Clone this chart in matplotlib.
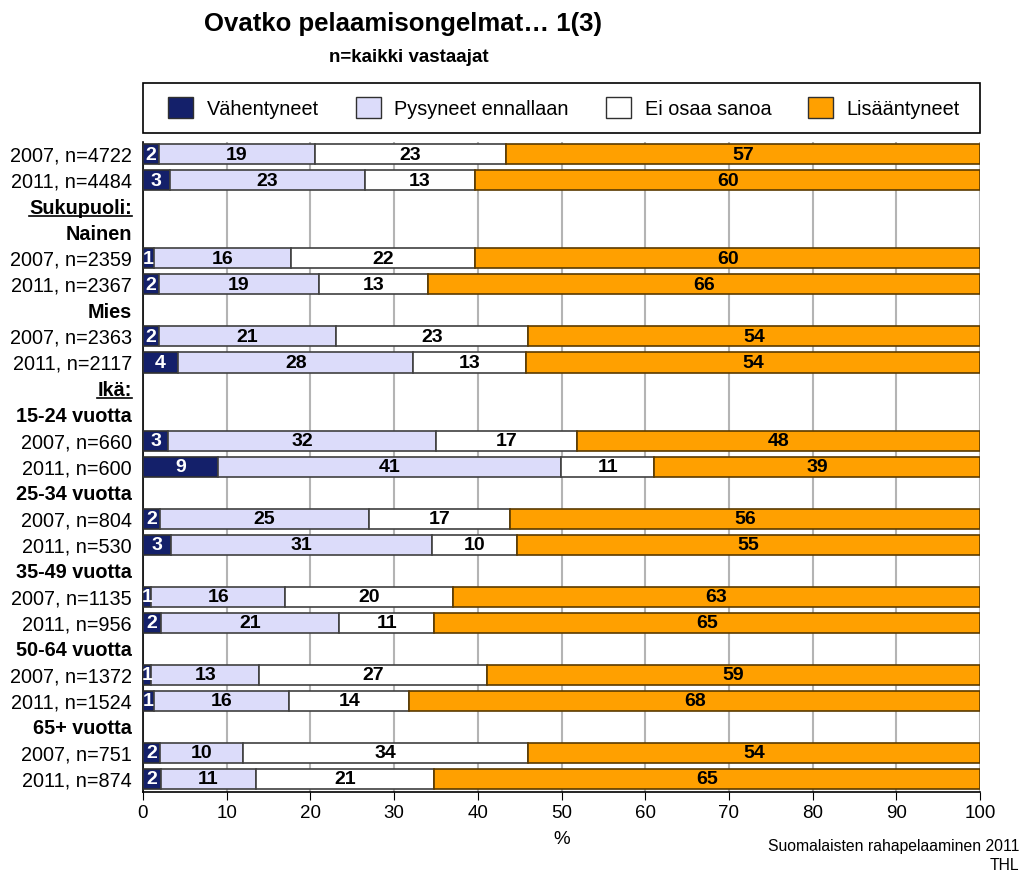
import numpy as np
import matplotlib.pyplot as plt
from matplotlib.patches import Patch, Rectangle
from matplotlib.lines import Line2D

plt.rcParams['font.family'] = ['Liberation Sans', 'DejaVu Sans']

# row labels, top to bottom (headers have no bars)
row_labels = ["2007, n=4722", "2011, n=4484", "Sukupuoli:", "Nainen",
              "2007, n=2359", "2011, n=2367", "Mies",
              "2007, n=2363", "2011, n=2117", "Ikä:", "15-24 vuotta",
              "2007, n=660", "2011, n=600", "25-34 vuotta",
              "2007, n=804", "2011, n=530", "35-49 vuotta",
              "2007, n=1135", "2011, n=956", "50-64 vuotta",
              "2007, n=1372", "2011, n=1524", "65+ vuotta",
              "2007, n=751", "2011, n=874"]
underlined = ["Sukupuoli:", "Ikä:"]
bold_headers = ["Nainen", "Mies", "15-24 vuotta", "25-34 vuotta",
                "35-49 vuotta", "50-64 vuotta", "65+ vuotta"]

series = ["Vähentyneet", "Pysyneet ennallaan", "Ei osaa sanoa", "Lisääntyneet"]
vahentyneet = [1.9, 3.2, 1.3, 1.9, 1.9, 4.2, 3.0, 9.0, 2.0, 3.3, 1.0, 2.2, 1.0, 1.3, 2.0, 2.1]
pysyneet = [18.6, 23.3, 16.4, 19.1, 21.1, 28.1, 32.0, 40.9, 25.0, 31.2, 16.0, 21.2, 12.9, 16.2, 9.9, 11.4]
ei_osaa = [22.9, 13.2, 22.0, 13.0, 23.0, 13.4, 16.9, 11.2, 16.9, 10.2, 20.0, 11.4, 27.2, 14.3, 34.1, 21.3]
lisaantyneet = [56.6, 60.3, 60.3, 66.0, 54.0, 54.3, 48.1, 38.9, 56.1, 55.3, 63.0, 65.2, 58.9, 68.2, 54.0, 65.2]

colors = ["#14206a", "#dcdcfa", "#ffffff", "#ffa000"]
edges = ["#303030", "#404040", "#404040", "#5a3a00"]
txt_colors = ["white", "black", "black", "black"]

fig = plt.figure(figsize=(10.21, 8.74), dpi=100)
ax = fig.add_axes([0.140, 1 - 792 / 874, 0.820, (792 - 142) / 874])

ypos = np.arange(len(row_labels))
bar_rows = [i for i, l in enumerate(row_labels)
            if l not in underlined and l not in bold_headers]

data = [vahentyneet, pysyneet, ei_osaa, lisaantyneet]
left = np.zeros(len(bar_rows))
for k, vals in enumerate(data):
    vals = np.array(vals)
    ax.barh(bar_rows, vals, left=left, height=0.77, color=colors[k],
            edgecolor=edges[k], linewidth=1.2, zorder=3)
    for y, l, v in zip(bar_rows, left, vals):
        ax.text(l + v / 2, y + 0.03, f"{v:.0f}", ha="center", va="center",
                color=txt_colors[k], fontsize=14, fontweight="bold", zorder=4)
    left += vals

ax.set_xlim(0, 100)
ax.set_ylim(len(row_labels) - 0.5, -0.47)
ax.set_xticks(np.arange(0, 101, 10))
ax.tick_params(axis="x", labelsize=13.5, length=6, direction="out")
ax.set_yticks(ypos)
ax.set_yticklabels(row_labels, fontsize=14.3)
ax.tick_params(axis="y", length=0, pad=8)
for lab in ax.get_yticklabels():
    if lab.get_text() in underlined or lab.get_text() in bold_headers:
        lab.set_fontweight("bold")

ax.xaxis.grid(True, color="#b4b4b4", linewidth=1.5, zorder=0)
ax.set_axisbelow(True)
for s in ["top", "right"]:
    ax.spines[s].set_visible(False)
ax.spines["left"].set_linewidth(1.2)
ax.spines["bottom"].set_linewidth(1.2)
ax.set_xlabel("%", fontsize=13.5, labelpad=6)

fig.text(0.395, 1 - 24 / 874, "Ovatko pelaamisongelmat… 1(3)", ha="center",
         va="center", fontsize=18.5, fontweight="bold")
fig.text(0.40, 1 - 58 / 874, "n=kaikki vastaajat", ha="center", va="center",
         fontsize=13.5, fontweight="bold")
fig.text(0.998, 1 - 846 / 874, "Suomalaisten rahapelaaminen 2011", ha="right",
         va="center", fontsize=11.3)
fig.text(0.998, 1 - 866 / 874, "THL", ha="right", va="center", fontsize=11.3)

# legend box drawn separately, entries spread inside it
fig.add_artist(Rectangle((143 / 1021, 1 - 133 / 874), 837 / 1021, 50 / 874,
                         transform=fig.transFigure, facecolor="white",
                         edgecolor="black", linewidth=1.2))
handles = [Patch(facecolor=c, edgecolor="#303030", linewidth=1) for c in colors]
leg = fig.legend(handles, series, loc="center", ncol=4, mode="expand",
                 bbox_to_anchor=(168 / 1021, 1 - 133 / 874, 792 / 1021, 50 / 874),
                 fontsize=14.3, frameon=False, handlelength=1.25,
                 handleheight=1.25, handletextpad=0.7, borderaxespad=0,
                 borderpad=0)

# underline the section headers
fig.canvas.draw()
r = fig.canvas.get_renderer()
for lab in ax.get_yticklabels():
    if lab.get_text() in underlined:
        bb = lab.get_window_extent(r).transformed(fig.transFigure.inverted())
        fig.add_artist(Line2D([bb.x0, bb.x1], [bb.y0 + 0.002, bb.y0 + 0.002],
                              color="black", linewidth=1.2))

fig.savefig("out.png", dpi=100)
